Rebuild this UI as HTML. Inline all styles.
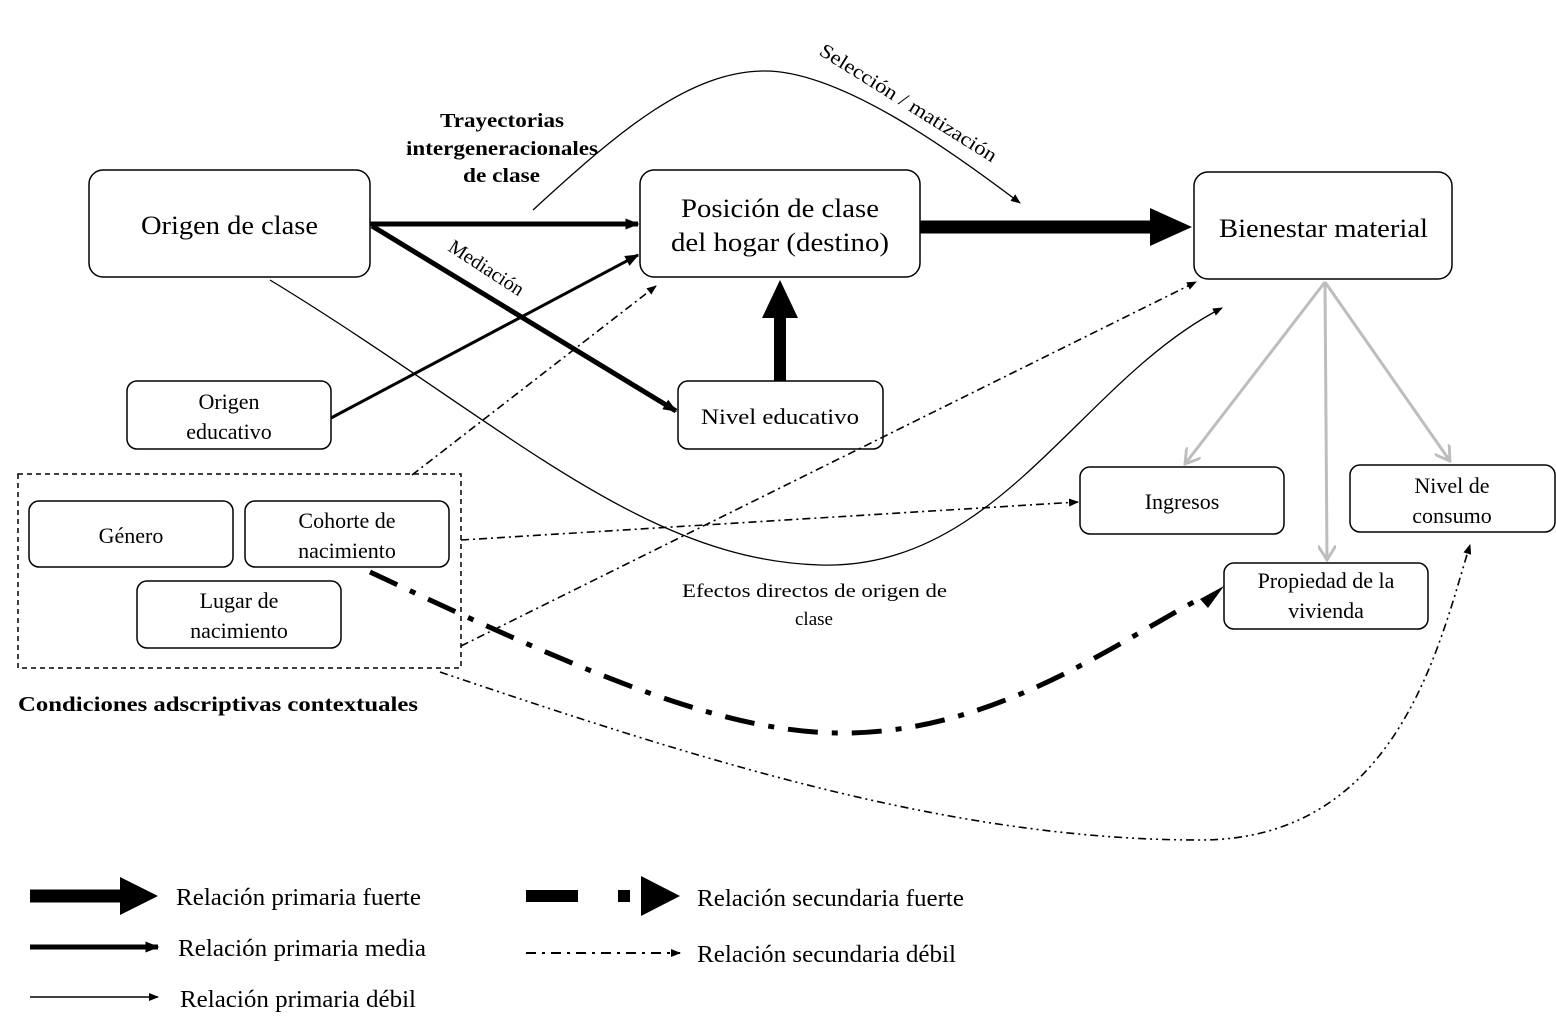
<!DOCTYPE html>
<html><head><meta charset="utf-8"><style>
html,body{margin:0;padding:0;background:#fff}
svg{display:block}
text{font-family:"Liberation Serif",serif;fill:#000}
</style></head><body>
<svg width="1556" height="1030" viewBox="0 0 1556 1030" xmlns="http://www.w3.org/2000/svg">
<defs>
<marker id="a" viewBox="0 0 10 10" refX="9" refY="5" markerWidth="10" markerHeight="10" markerUnits="userSpaceOnUse" orient="auto"><path d="M0,1 L10,5 L0,9 z" fill="#000"/></marker>
<marker id="am" viewBox="0 0 10 10" refX="9" refY="5" markerWidth="14" markerHeight="14" markerUnits="userSpaceOnUse" orient="auto"><path d="M0,1 L10,5 L0,9 z" fill="#000"/></marker>
<marker id="ag" viewBox="0 0 10 10" refX="9" refY="5" markerWidth="18" markerHeight="18" markerUnits="userSpaceOnUse" orient="auto"><path d="M1,0 L9,5 L1,10" fill="none" stroke="#bdbdbd" stroke-width="1.6"/></marker>
</defs>
<g fill="#fff" stroke="#000" stroke-width="1.5">
<rect x="89" y="170" width="281" height="107" rx="14"/>
<rect x="640" y="170" width="280" height="107" rx="14"/>
<rect x="1194" y="172" width="258" height="107" rx="14"/>
<rect x="127" y="381" width="204" height="68" rx="10"/>
<rect x="678" y="381" width="205" height="68" rx="10"/>
<rect x="18" y="474" width="443" height="194" rx="0" stroke-dasharray="5,4" fill="none"/>
<rect x="29" y="501" width="204" height="66" rx="10"/>
<rect x="245" y="501" width="204" height="66" rx="10"/>
<rect x="137" y="581" width="204" height="67" rx="10"/>
<rect x="1080" y="467" width="204" height="67" rx="10"/>
<rect x="1350" y="465" width="205" height="67" rx="10"/>
<rect x="1224" y="563" width="204" height="66" rx="10"/>
</g>
<g fill="none" stroke="#000">
<line x1="370" y1="224" x2="638" y2="224" stroke-width="5" marker-end="url(#am)"/>
<line x1="920" y1="227" x2="1150" y2="227" stroke-width="13"/>
<path d="M1150,208 L1192,227 L1150,246 z" fill="#000" stroke="none"/>
<line x1="780" y1="381" x2="780" y2="318" stroke-width="12"/>
<path d="M762,318 L780,280 L798,318 z" fill="#000" stroke="none"/>
<line x1="372" y1="226" x2="676" y2="411" stroke-width="5" marker-end="url(#am)"/>
<line x1="331" y1="418" x2="638" y2="255" stroke-width="3" marker-end="url(#am)"/>
<path d="M533,210 C620,130 690,71 765,71 C840,71 950,150 1020,203" stroke-width="1.3" marker-end="url(#a)"/>
<path d="M270,280 C500,420 640,560 820,565 C1000,570 1080,380 1222,308" stroke-width="1.3" marker-end="url(#a)"/>
<line x1="412" y1="475" x2="656" y2="286" stroke-width="1.6" stroke-dasharray="8,4,2,4" marker-end="url(#a)"/>
<line x1="461" y1="646" x2="1196" y2="282" stroke-width="1.6" stroke-dasharray="8,4,2,4" marker-end="url(#a)"/>
<line x1="461" y1="540" x2="1078" y2="502" stroke-width="1.6" stroke-dasharray="8,4,2,4" marker-end="url(#a)"/>
<path d="M370,572 C600,680 730,735 850,733 C1000,730 1120,640 1205,596" stroke-width="5" stroke-dasharray="30,14,6,14"/>
<path d="M1200,599 L1224,586 L1208,608 z" fill="#000" stroke="none"/>
<path d="M440,672 C700,760 950,840 1200,840 C1400,840 1440,640 1470,545" stroke-width="1.6" stroke-dasharray="8,4,2,4,2,4" marker-end="url(#a)"/>
<g stroke="#bdbdbd" stroke-width="3">
<line x1="1325" y1="282" x2="1185" y2="464" marker-end="url(#ag)"/>
<line x1="1325" y1="282" x2="1327" y2="560" marker-end="url(#ag)"/>
<line x1="1325" y1="282" x2="1450" y2="461" marker-end="url(#ag)"/>
</g>
<line x1="30" y1="896" x2="122" y2="896" stroke-width="13"/>
<path d="M120,877 L158,896 L120,915 z" fill="#000" stroke="none"/>
<line x1="30" y1="947" x2="158" y2="947" stroke-width="5" marker-end="url(#am)"/>
<line x1="30" y1="997" x2="158" y2="997" stroke-width="1.5" marker-end="url(#a)"/>
<line x1="526" y1="896" x2="578" y2="896" stroke-width="12"/>
<rect x="618" y="890" width="12" height="12" fill="#000" stroke="none"/>
<path d="M641,876 L680,896 L641,916 z" fill="#000" stroke="none"/>
<line x1="526" y1="953" x2="680" y2="953" stroke-width="2" stroke-dasharray="10,6,3,6" marker-end="url(#a)"/>
</g>
<g font-size="26">
<text x="141" y="234" textLength="177" lengthAdjust="spacingAndGlyphs">Origen de clase</text>
<text x="681" y="217" textLength="198" lengthAdjust="spacingAndGlyphs">Posición de clase</text>
<text x="671" y="251" textLength="218" lengthAdjust="spacingAndGlyphs">del hogar (destino)</text>
<text x="1219" y="237" textLength="209" lengthAdjust="spacingAndGlyphs">Bienestar material</text>
</g>
<g font-size="22" text-anchor="middle">
<text x="229" y="409">Origen</text>
<text x="229" y="439">educativo</text>
<text x="131" y="543">Género</text>
<text x="347" y="528">Cohorte de</text>
<text x="347" y="558">nacimiento</text>
<text x="239" y="608">Lugar de</text>
<text x="239" y="638">nacimiento</text>
<text x="1182" y="509">Ingresos</text>
<text x="1452" y="493">Nivel de</text>
<text x="1452" y="523">consumo</text>
<text x="1326" y="588">Propiedad de la</text>
<text x="1326" y="618">vivienda</text>
</g>
<text x="701" y="424" font-size="22" textLength="158" lengthAdjust="spacingAndGlyphs">Nivel educativo</text>
<g font-size="20" font-weight="bold">
<text x="440" y="127" textLength="124" lengthAdjust="spacingAndGlyphs">Trayectorias</text>
<text x="406" y="155" textLength="192" lengthAdjust="spacingAndGlyphs">intergeneracionales</text>
<text x="463" y="182" textLength="77" lengthAdjust="spacingAndGlyphs">de clase</text>
</g>
<text x="18" y="711" font-size="21" font-weight="bold" textLength="400" lengthAdjust="spacingAndGlyphs">Condiciones adscriptivas contextuales</text>
<text x="682" y="597" font-size="19" textLength="265" lengthAdjust="spacingAndGlyphs">Efectos directos de origen de</text>
<text x="814" y="625" font-size="19" text-anchor="middle">clase</text>
<text x="0" y="0" font-size="20" transform="translate(447,250) rotate(33)">Mediación</text>
<text x="0" y="0" font-size="20" textLength="205" lengthAdjust="spacingAndGlyphs" transform="translate(818,54) rotate(32)">Selección / matización</text>
<g font-size="24">
<text x="176" y="905" textLength="245" lengthAdjust="spacingAndGlyphs">Relación primaria fuerte</text>
<text x="178" y="956" textLength="248" lengthAdjust="spacingAndGlyphs">Relación primaria media</text>
<text x="180" y="1007" textLength="236" lengthAdjust="spacingAndGlyphs">Relación primaria débil</text>
<text x="697" y="906" textLength="267" lengthAdjust="spacingAndGlyphs">Relación secundaria fuerte</text>
<text x="697" y="962" textLength="259" lengthAdjust="spacingAndGlyphs">Relación secundaria débil</text>
</g>
</svg>
</body></html>
